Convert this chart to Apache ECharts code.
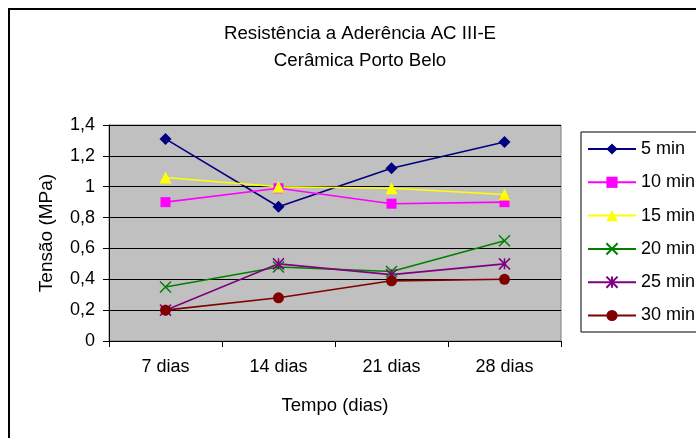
<!DOCTYPE html>
<html>
<head>
<meta charset="utf-8">
<script src="https://cdn.jsdelivr.net/npm/echarts@6/dist/echarts.min.js"></script>
<style>
  html, body { margin: 0; padding: 0; background: #fff; }
  #chart { width: 696px; height: 438px; }
</style>
</head>
<body>
<div id="chart"></div>
<script>
// dados
const categories = ['7 dias', '14 dias', '21 dias', '28 dias']
const seriesNames = ['5 min', '10 min', '15 min', '20 min', '25 min', '30 min']
const min5 = [1.31, 0.87, 1.12, 1.29]
const min10 = [0.90, 0.99, 0.89, 0.90]
const min15 = [1.06, 1.00, 0.99, 0.95]
const min20 = [0.35, 0.48, 0.45, 0.65]
const min25 = [0.20, 0.50, 0.43, 0.50]
const min30 = [0.20, 0.28, 0.39, 0.40]
const yTicks = [0, 0.2, 0.4, 0.6, 0.8, 1, 1.2, 1.4]

const colors = ['#000080', '#FF00FF', '#FFFF00', '#008000', '#800080', '#800000']
const symbols = [
  'diamond',
  'rect',
  'triangle',
  'path://M0,0L10,10M10,0L0,10',
  'path://M0,0L10,10M10,0L0,10M5,0L5,10',
  'circle'
]
const sizes = [12, 10, 12, 11, 11, 11]
const values = [min5, min10, min15, min20, min25, min30]
const font = 'Arial, "Liberation Sans", sans-serif'

const chart = echarts.init(document.getElementById('chart'))

const series = seriesNames.map((name, i) => {
  const stroked = i === 3 || i === 4
  return {
    name,
    type: 'line',
    data: values[i],
    symbol: symbols[i],
    symbolSize: sizes[i],
    showAllSymbol: true,
    lineStyle: { color: colors[i], width: 1.6 },
    itemStyle: stroked
      ? { color: 'rgba(0,0,0,0)', borderColor: colors[i], borderWidth: 1.5 }
      : { color: colors[i], borderWidth: 0 },
    emphasis: { disabled: true },
    animation: false
  }
})

chart.setOption({
  animation: false,
  graphic: [
    {
      type: 'rect',
      shape: { x: 9, y: 9, width: 720, height: 460 },
      style: { fill: 'none', stroke: '#000', lineWidth: 2 },
      z: -10
    },
    {
      type: 'text',
      x: 360, y: 34,
      style: {
        text: 'Resistência a Aderência AC III-E',
        fill: '#000', font: '18.7px ' + font,
        textAlign: 'center', textVerticalAlign: 'middle'
      }
    },
    {
      type: 'text',
      x: 360, y: 61,
      style: {
        text: 'Cerâmica Porto Belo',
        fill: '#000', font: '18.7px ' + font,
        textAlign: 'center', textVerticalAlign: 'middle'
      }
    },
    {
      type: 'rect',
      shape: { x: 581, y: 132, width: 140, height: 200 },
      style: { fill: '#fff', stroke: '#000', lineWidth: 1 },
      z: -5
    }
  ],
  legend: {
    orient: 'vertical',
    left: 587,
    top: 140,
    itemWidth: 48,
    itemHeight: 14,
    itemGap: 15.3,
    padding: 0,
    textStyle: { fontSize: 18, fontFamily: font, color: '#000', padding: [0, 0, 0, 0] },
    data: seriesNames
  },
  grid: {
    left: 109,
    right: 135,
    top: 125,
    bottom: 97,
    show: true,
    backgroundColor: '#C0C0C0',
    borderColor: '#808080',
    borderWidth: 1
  },
  xAxis: {
    type: 'category',
    data: categories,
    boundaryGap: true,
    name: 'Tempo (dias)',
    nameLocation: 'middle',
    nameGap: 55,
    nameTextStyle: { fontSize: 18.5, fontFamily: font, color: '#000', verticalAlign: 'top' },
    axisLine: { lineStyle: { color: '#000', width: 1 } },
    axisTick: { show: true, length: 6, lineStyle: { color: '#000' } },
    axisLabel: { margin: 17, fontSize: 18, fontFamily: font, color: '#000' },
    splitLine: { show: false }
  },
  yAxis: {
    type: 'value',
    min: yTicks[0],
    max: yTicks[yTicks.length - 1],
    interval: 0.2,
    name: 'Tensão (MPa)',
    nameLocation: 'middle',
    nameGap: 53,
    nameRotate: 90,
    nameTextStyle: { fontSize: 19, fontFamily: font, color: '#000' },
    axisLine: { show: true, lineStyle: { color: '#000', width: 1 } },
    axisTick: { show: true, length: 6, lineStyle: { color: '#000' } },
    axisLabel: {
      margin: 14,
      fontSize: 18,
      fontFamily: font,
      color: '#000',
      formatter: v => String(Math.round(v * 10) / 10).replace('.', ',')
    },
    splitLine: { show: true, lineStyle: { color: '#000', width: 1 } }
  },
  series
})
</script>
</body>
</html>
